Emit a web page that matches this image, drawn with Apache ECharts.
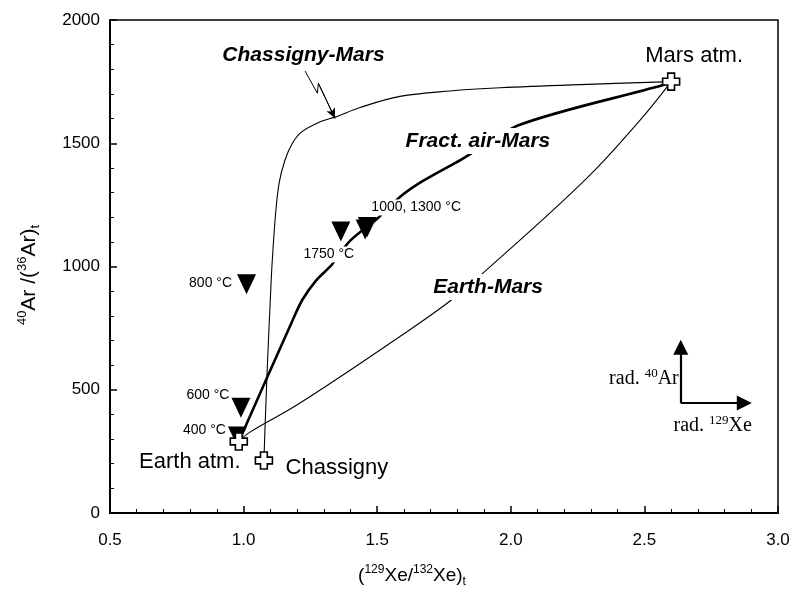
<!DOCTYPE html>
<html><head><meta charset="utf-8">
<script src="https://cdn.jsdelivr.net/npm/echarts@6/dist/echarts.min.js"></script>
<style>html,body{margin:0;padding:0;background:#fff}#c{width:794px;height:594px}</style>
</head><body><div id="c"></div>
<script>
// ---- data (x = 129Xe/132Xe, y = 40Ar/36Ar) ----
const chassMarsX = [1.076,1.082,1.091,1.100,1.106,1.119,1.133,1.155,1.181,1.217,1.286,1.342,1.436,1.585,1.772,1.96,2.259,2.6];
const chassMarsY = [213,400,650,865,1000,1205,1339,1432,1497,1546,1587,1606,1645,1690,1712,1725,1738,1750];

const fractX = [0.982,1.181,1.220,1.271,1.330,1.398,1.503,1.585,1.671,1.816,2.034,2.570,2.6];
const fractY = [290,776,865,943,1007,1104,1197,1282,1347,1435,1575,1736,1750];

const earthMarsX = [0.982,1.018,1.211,1.585,1.779,1.903,2.278,2.484,2.6];
const earthMarsY = [290,324,446,716,865,980,1351,1594,1750];

const stepLabels = ['400 °C','600 °C','800 °C','1750 °C','1000, 1300 °C',''];
const stepX = [0.977,0.990,1.011,1.364,1.455,1.463];
const stepY = [310,427,928,1142,1150,1160];

const endNames = ['Earth atm.','Chassigny','Mars atm.'];
const endX = [0.982,1.076,2.6];
const endY = [290,213,1750];

const curveNames = ['Chassigny-Mars','Fract. air-Mars','Earth-Mars'];
const curveNameX = [1.224,1.877,1.915];
const curveNameY = [1858,1509,917];

const lightningX = [1.230,1.276,1.280,1.342];
const lightningY = [1793,1703,1743,1601];

const radOriginX = 2.636, radOriginY = 446, radTipX = 2.874, radTipY = 672;

const xMin = 0.5, xMax = 3.0, xStep = 0.5;
const yMin = 0, yMax = 2000, yStep = 500;

// ---- styling / layout ----
const FONT = "'Liberation Sans', Arial, sans-serif";
const SERIF = "'Liberation Serif', 'Times New Roman', serif";
const INK = '#000';
const stepLabelOffsets = [[-33,-6],[-33,-13],[-36,-1],[-12,23],[51,-22],[0,0]];
const endLabelOffsets = [[-49,20],[73,7],[23,-26]];
const zip = (xs, ys) => xs.map((x, i) => [x, ys[i]]);
const noBorder = {textBorderWidth: 0, textBorderColor: 'transparent', textShadowBlur: 0, opacity: 1};

const crossPath = 'path://M3,0 L7,0 L7,3 L10,3 L10,7 L7,7 L7,10 L3,10 L3,7 L0,7 L0,3 L3,3 Z';

const chart = echarts.init(document.getElementById('c'), null, {renderer: 'canvas'});
chart.setOption({
  animation: false,
  backgroundColor: '#fff',
  grid: {left: 110, right: 16, top: 20, bottom: 81, show: true, borderColor: '#000', borderWidth: 1.5, backgroundColor: 'transparent'},
  xAxis: {
    type: 'value', min: xMin, max: xMax, interval: xStep,
    axisLine: {lineStyle: {color: '#000', width: 2}},
    axisTick: {inside: true, length: 7, lineStyle: {color: '#000', width: 1.5}},
    minorTick: {show: true, splitNumber: 5, length: 4, lineStyle: {color: '#000', width: 1}},
    splitLine: {show: false},
    axisLabel: {formatter: v => v.toFixed(1), fontSize: 17, color: '#000', margin: 19, fontFamily: FONT},
    name: '{n|(}{sup|129}{n|Xe/}{sup|132}{n|Xe)}{sub|t}',
    nameLocation: 'middle', nameGap: 51,
    nameTextStyle: {
      padding: [0, 64, 0, 0],
      rich: {
        n: {fontSize: 19, fontFamily: FONT, color: '#000', lineHeight: 24, verticalAlign: 'middle'},
        sup: {fontSize: 12, fontFamily: FONT, color: '#000', verticalAlign: 'top', lineHeight: 24},
        sub: {fontSize: 12, fontFamily: FONT, color: '#000', verticalAlign: 'bottom', lineHeight: 20}
      }
    }
  },
  yAxis: {
    type: 'value', min: yMin, max: yMax, interval: yStep,
    axisLine: {lineStyle: {color: '#000', width: 2}},
    axisTick: {inside: true, length: 7, lineStyle: {color: '#000', width: 1.5}},
    minorTick: {show: true, splitNumber: 5, length: 4, lineStyle: {color: '#000', width: 1}},
    splitLine: {show: false},
    axisLabel: {formatter: v => String(v), fontSize: 17, color: '#000', margin: 10, fontFamily: FONT},
    name: '{sup|40}{n|Ar /(}{sup|36}{n|Ar)}{sub|t}',
    nameLocation: 'middle', nameGap: 68, nameRotate: 90,
    nameTextStyle: {
      padding: [0, 17, 0, 0],
      rich: {
        n: {fontSize: 21, fontFamily: FONT, color: '#000', lineHeight: 26, verticalAlign: 'middle'},
        sup: {fontSize: 13, fontFamily: FONT, color: '#000', verticalAlign: 'top', lineHeight: 26},
        sub: {fontSize: 13, fontFamily: FONT, color: '#000', verticalAlign: 'bottom', lineHeight: 22}
      }
    }
  },
  series: [
    {name: 'Chassigny-Mars', type: 'line', data: zip(chassMarsX, chassMarsY), smooth: 0.35, showSymbol: false,
     lineStyle: {color: INK, width: 1.1}, z: 2, silent: true},
    {name: 'Fract. air-Mars', type: 'line', data: zip(fractX, fractY), smooth: 0.3, showSymbol: false,
     lineStyle: {color: INK, width: 2.6}, z: 2, silent: true},
    {name: 'Earth-Mars', type: 'line', data: zip(earthMarsX, earthMarsY), smooth: 0.4, showSymbol: false,
     lineStyle: {color: INK, width: 1.1}, z: 2, silent: true},
    {name: 'lightning', type: 'line', data: zip(lightningX, lightningY), showSymbol: false, smooth: false,
     lineStyle: {color: INK, width: 1}, z: 3, silent: true,
     markLine: {silent: true, symbol: ['none', 'arrow'], symbolSize: [7, 10], animation: false,
       lineStyle: {color: INK, width: 1, type: 'solid'}, label: {show: false},
       data: [[{coord: [lightningX[2], lightningY[2]]}, {coord: [lightningX[3], lightningY[3]]}]]}},
    {name: 'steps', type: 'scatter', data: zip(stepX, stepY).map((p, i) => ({
        value: p, label: {show: !!stepLabels[i], formatter: stepLabels[i], offset: stepLabelOffsets[i]}})),
     symbol: 'triangle', symbolRotate: 180, symbolSize: [19, 20],
     itemStyle: {color: '#000', opacity: 1}, z: 4, silent: true,
     label: Object.assign({position: 'inside', align: 'center', verticalAlign: 'middle', fontSize: 14, fontFamily: FONT, color: '#000',
             backgroundColor: '#fff', padding: [1, 2]}, noBorder)},
    {name: 'endmembers', type: 'scatter', data: zip(endX, endY).map((p, i) => ({
        value: p, label: {show: true, formatter: endNames[i], offset: endLabelOffsets[i]}})),
     symbol: crossPath, symbolSize: 17, itemStyle: {color: '#fff', borderColor: '#000', borderWidth: 1.6, opacity: 1}, z: 6, silent: true,
     label: Object.assign({position: 'inside', align: 'center', verticalAlign: 'middle', fontSize: 22, fontFamily: FONT, color: '#000'}, noBorder)},
    {name: 'curve names', type: 'scatter', data: zip(curveNameX, curveNameY).map((p, i) => ({value: p, name: curveNames[i]})),
     symbolSize: 0, z: 5, silent: true, itemStyle: {color: '#000', opacity: 1},
     label: Object.assign({show: true, position: 'inside', formatter: '{b}', fontSize: 21, fontWeight: 'bold', fontStyle: 'italic',
             fontFamily: FONT, color: '#000', backgroundColor: '#fff', padding: [2, 4], lineHeight: 22}, noBorder)},
    {name: 'radiogenic', type: 'scatter', data: [[radOriginX, radOriginY]], symbolSize: 0, z: 5, silent: true,
     label: {show: false},
     markLine: {silent: true, symbol: ['none', 'triangle'], symbolSize: [15, 15], animation: false,
       lineStyle: {color: '#000', width: 2.2, type: 'solid', opacity: 1}, label: {show: false},
       data: [
         [{coord: [radOriginX, radOriginY]}, {coord: [radOriginX, radTipY]}],
         [{coord: [radOriginX, radOriginY]}, {coord: [radTipX, radOriginY]}]
       ]}},
    {name: 'rad labels', type: 'scatter', symbolSize: 0, z: 5, silent: true, itemStyle: {color: '#000', opacity: 1},
     data: [
       {value: [radOriginX, radOriginY], label: {show: true, formatter: '{n|rad. }{sup|40}{n|Ar}', align: 'right', offset: [-2, -24]}},
       {value: [radOriginX, radOriginY], label: {show: true, formatter: '{n|rad. }{sup|129}{n|Xe}', align: 'center', offset: [32, 23]}}
     ],
     label: Object.assign({position: 'inside', verticalAlign: 'middle', color: '#000',
       rich: {
         n: {fontSize: 20, fontFamily: SERIF, color: '#000', lineHeight: 24, verticalAlign: 'middle'},
         sup: {fontSize: 13, fontFamily: SERIF, color: '#000', lineHeight: 24, verticalAlign: 'top'}
       }}, noBorder)}
  ]
});
</script></body></html>
